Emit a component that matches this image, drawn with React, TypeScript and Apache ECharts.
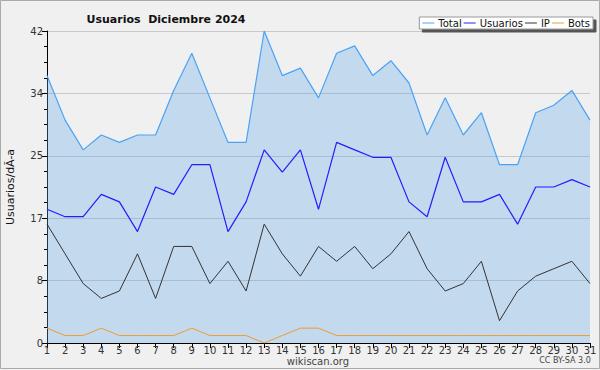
import React, { useEffect, useRef } from "react";
import * as echarts from "echarts";

const days = Array.from({ length: 31 }, (_, i) => String(i + 1));
const total = [36, 30, 26, 28, 27, 28, 28, 34, 39, 33, 27, 27, 42, 36, 37, 33, 39, 40, 36, 38, 35, 28, 33, 28, 31, 24, 24, 31, 32, 34, 30];
const usuarios = [18, 17, 17, 20, 19, 15, 21, 20, 24, 24, 15, 19, 26, 23, 26, 18, 27, 26, 25, 25, 19, 17, 25, 19, 19, 20, 16, 21, 21, 22, 21];
const ip = [16, 12, 8, 6, 7, 12, 6, 13, 13, 8, 11, 7, 16, 12, 9, 13, 11, 13, 10, 12, 15, 10, 7, 8, 11, 3, 7, 9, 10, 11, 8];
const bots = [2, 1, 1, 2, 1, 1, 1, 1, 2, 1, 1, 1, 0, 1, 2, 2, 1, 1, 1, 1, 1, 1, 1, 1, 1, 1, 1, 1, 1, 1, 1];

const FONT = "DejaVu Sans";

export default function App() {
  const ref = useRef<HTMLDivElement>(null);
  useEffect(() => {
    const chart = echarts.init(ref.current!, null, { renderer: "svg" });
    chart.setOption({
      animation: false,
      backgroundColor: "#f0f0f0",
      textStyle: { fontFamily: FONT },
      title: {
        text: "Usuarios  Diciembre 2024",
        left: 161,
        top: 9,
        textAlign: "center",
        textStyle: { fontSize: 11, fontWeight: "bold", color: "#111", fontFamily: FONT },
      },
      legend: {
        right: 7,
        top: 17,
        padding: [1, 3, 1, 3],
        backgroundColor: "#ffffff",
        borderColor: "#999",
        borderWidth: 1,
        shadowColor: "#555",
        shadowBlur: 0,
        shadowOffsetX: 3,
        shadowOffsetY: 3,
        itemGap: 2,
        itemWidth: 12,
        itemHeight: 10,
        icon: "path://M0,4.5 L12,4.5 L12,5.5 L0,5.5 Z",
        textStyle: { fontSize: 10, color: "#111", fontFamily: FONT, padding: [0, 0, 0, -1] },
        data: ["Total", "Usuarios", "IP", "Bots"],
      },
      grid: { left: 47, right: 10, top: 31, bottom: 27, containLabel: false, outerBoundsMode: "none" },
      xAxis: {
        type: "category",
        data: days,
        boundaryGap: false,
        axisLine: { lineStyle: { color: "#000", width: 1 } },
        axisTick: { show: true, alignWithLabel: true, length: 5, lineStyle: { color: "#000" } },
        axisLabel: { fontSize: 10, color: "#333", margin: 2, interval: 0, fontFamily: FONT },
        splitLine: { show: false },
      },
      yAxis: {
        type: "value",
        min: 0,
        max: 42,
        interval: 8.4,
        name: "Usuarios/dÃ-a",
        nameLocation: "middle",
        nameGap: 31,
        nameTextStyle: { fontSize: 11, color: "#111", fontFamily: FONT },
        axisLine: { show: true, lineStyle: { color: "#000", width: 1 } },
        axisTick: { show: true, length: 5, lineStyle: { color: "#000" } },
        minorTick: { show: true, splitNumber: 4, length: 3, lineStyle: { color: "#000" } },
        axisLabel: {
          fontSize: 10,
          color: "#333",
          margin: 4,
          fontFamily: FONT,
          formatter: (v: number) => String(Math.round(v)),
        },
        splitLine: { show: true, lineStyle: { color: "#c8c8c8", width: 1 } },
      },
      series: [
        {
          name: "Total",
          type: "line",
          data: total,
          symbol: "none",
          lineStyle: { color: "#4aa3f5", width: 1.2 },
          itemStyle: { color: "#4aa3f5" },
          areaStyle: { color: "rgba(99,168,232,0.32)", opacity: 1 },
          z: 2,
        },
        {
          name: "Usuarios",
          type: "line",
          data: usuarios,
          symbol: "none",
          lineStyle: { color: "#1f1fff", width: 1.2 },
          itemStyle: { color: "#1f1fff" },
          z: 3,
        },
        {
          name: "IP",
          type: "line",
          data: ip,
          symbol: "none",
          lineStyle: { color: "#333333", width: 1 },
          itemStyle: { color: "#333333" },
          z: 3,
        },
        {
          name: "Bots",
          type: "line",
          data: bots,
          symbol: "none",
          lineStyle: { color: "#f29a2e", width: 1 },
          itemStyle: { color: "#f29a2e" },
          z: 3,
        },
      ],
      graphic: [
        {
          type: "rect",
          shape: { x: 0.5, y: 0.5, width: 599, height: 368 },
          style: { fill: "none", stroke: "#aaaaaa", lineWidth: 1 },
          silent: true,
        },
        {
          type: "text",
          x: 318,
          y: 356,
          style: { text: "wikiscan.org", fontSize: 10, fill: "#444", textAlign: "center", fontFamily: FONT },
        },
        {
          type: "text",
          x: 565,
          y: 356,
          style: { text: "CC BY-SA 3.0", fontSize: 8, fill: "#444", textAlign: "center", fontFamily: FONT },
        },
      ],
    });
    return () => chart.dispose();
  }, []);
  return (
    <div
      ref={ref}
      style={{ position: "fixed", left: 0, top: 0, width: 600, height: 370 }}
    />
  );
}
